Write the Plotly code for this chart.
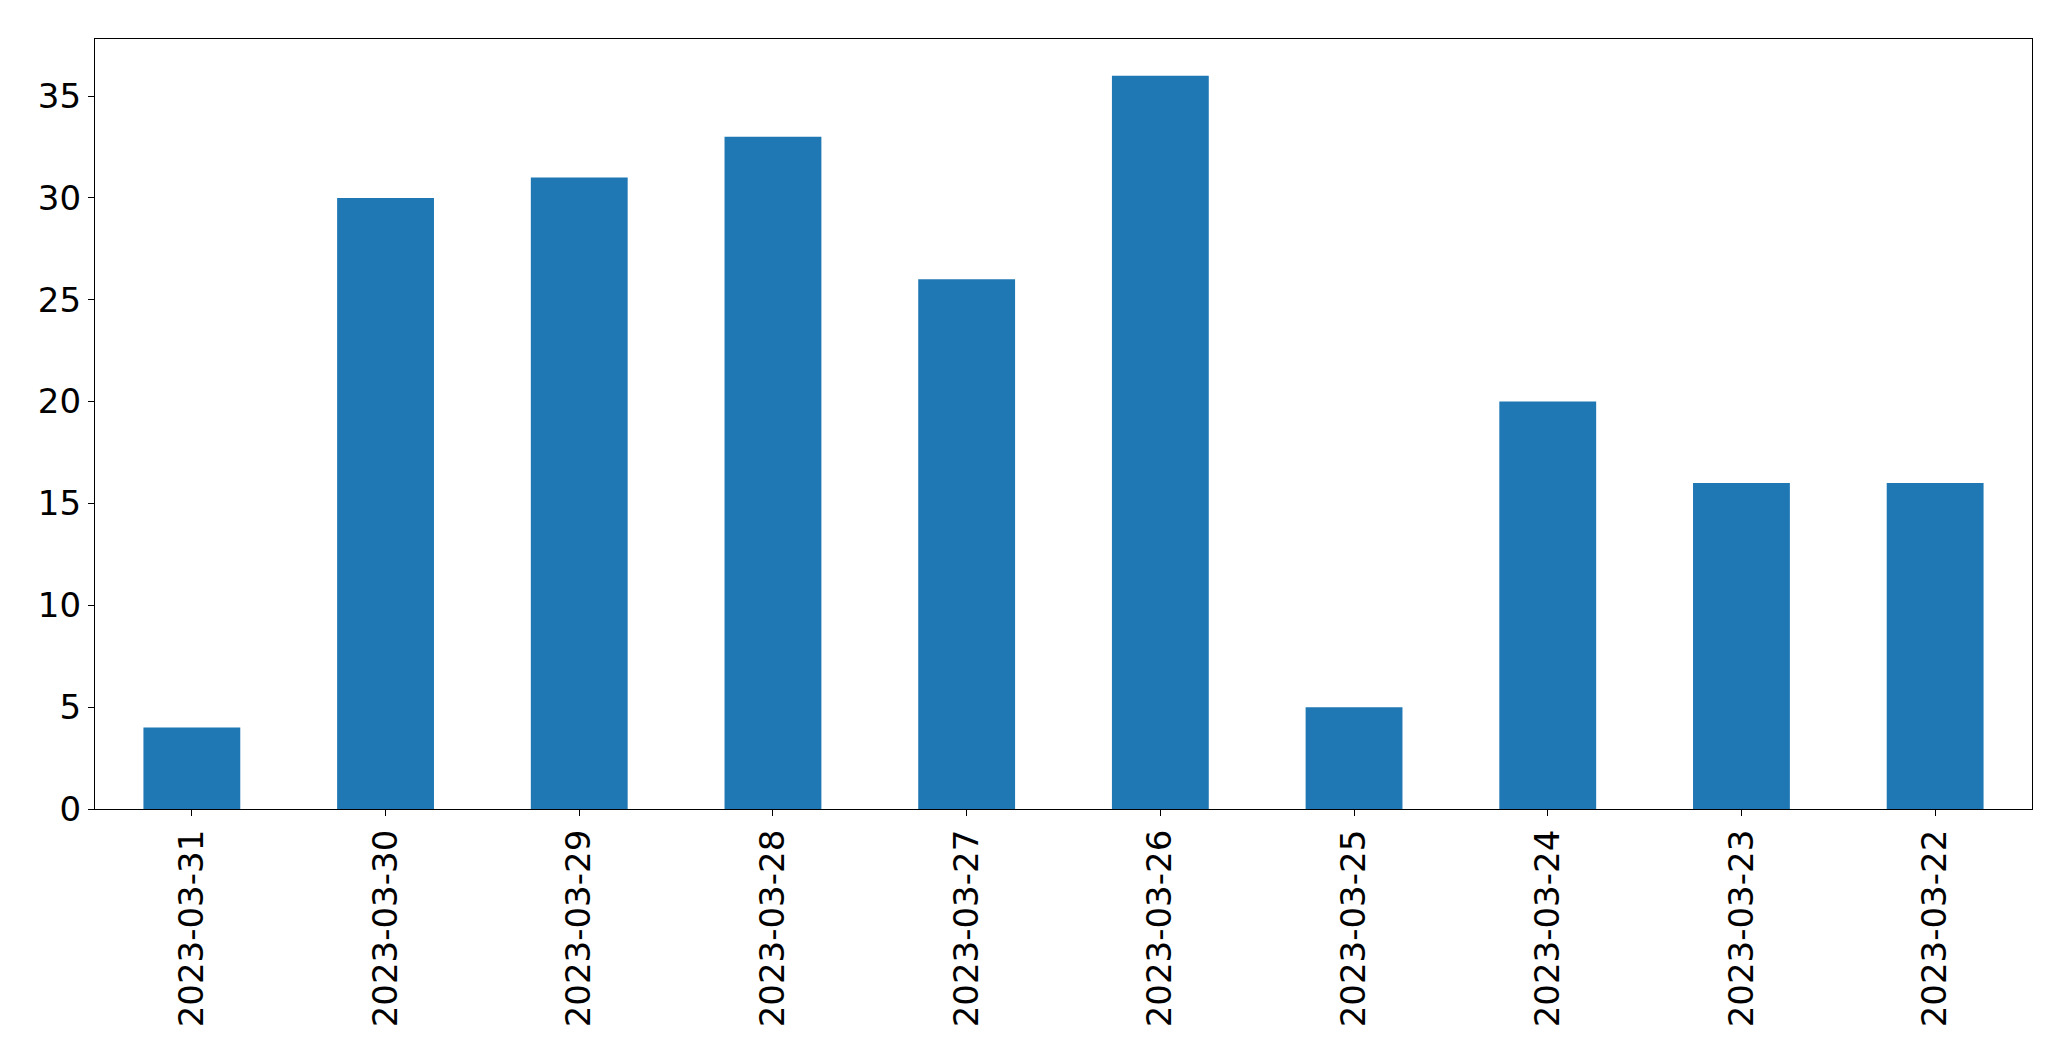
import plotly.graph_objects as go

dates = ["2023-03-31", "2023-03-30", "2023-03-29", "2023-03-28", "2023-03-27",
         "2023-03-26", "2023-03-25", "2023-03-24", "2023-03-23", "2023-03-22"]
counts = [4, 30, 31, 33, 26, 36, 5, 20, 16, 16]

fig = go.Figure(go.Bar(x=dates, y=counts, width=0.5, marker_color="#1f77b4",
                       marker_line_width=0))

fig.update_layout(
    width=2071, height=1061,
    margin=dict(l=95, r=39, t=39, b=252, pad=0),
    paper_bgcolor="white", plot_bgcolor="white",
    font=dict(family="DejaVu Sans", size=34, color="black"),
    showlegend=False,
)
fig.update_xaxes(type="category", range=[-0.5, len(dates) - 0.5],
                 tickangle=-90, ticks="outside", ticklen=6, tickwidth=1.3,
                 tickcolor="black", showline=True, linecolor="black", linewidth=1.3,
                 mirror=True, showgrid=False, zeroline=False,
                 tickfont=dict(size=34, family="DejaVu Sans", color="black"))
fig.update_yaxes(range=[0, max(counts) * 1.05], tickmode="array",
                 tickvals=[0, 5, 10, 15, 20, 25, 30, 35],
                 ticks="outside", ticklen=6, tickwidth=1.3, tickcolor="black",
                 showline=True, linecolor="black", linewidth=1.3, mirror=True,
                 showgrid=False, zeroline=False,
                 tickfont=dict(size=34, family="DejaVu Sans", color="black"))

fig.write_html("out.html")
